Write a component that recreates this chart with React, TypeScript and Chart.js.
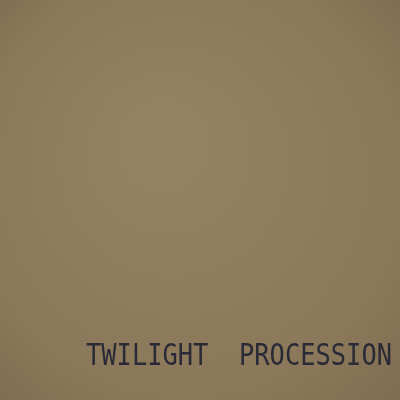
import React, { useEffect, useRef } from "react";
import { Chart, registerables } from "chart.js";

Chart.register(...registerables);

const TITLE_WORDS: string[] = ["TWILIGHT", "PROCESSION"];
const categories: string[] = [];
const values: number[] = [];

const coverPlugin = {
  id: "cover",
  beforeDraw(chart: any) {
    const { ctx, width, height } = chart;
    ctx.save();
    const g = ctx.createRadialGradient(width * 0.4, height * 0.35, 20, width * 0.5, height * 0.5, width * 0.75);
    g.addColorStop(0, "#958262");
    g.addColorStop(0.7, "#8b785a");
    g.addColorStop(1, "#7d6b50");
    ctx.fillStyle = g;
    ctx.fillRect(0, 0, width, height);
    ctx.restore();
  },
  afterDraw(chart: any) {
    const { ctx, width, height } = chart;
    const text = TITLE_WORDS.join("  ");
    ctx.save();
    ctx.font = "30px 'DejaVu Sans Mono', monospace";
    ctx.fillStyle = "#2a2a36";
    ctx.textBaseline = "alphabetic";
    const w = ctx.measureText(text).width;
    const targetW = (width / 400) * 306;
    const sx = targetW / w;
    const right = (width / 400) * 392;
    const base = (height / 400) * 365;
    ctx.translate(right - targetW, base);
    ctx.scale(sx, 1);
    ctx.fillText(text, 0, 0);
    ctx.restore();
  },
};

export default function App() {
  const ref = useRef<HTMLCanvasElement | null>(null);
  useEffect(() => {
    if (!ref.current) return;
    const chart = new Chart(ref.current, {
      type: "bar",
      data: { labels: categories, datasets: [{ data: values }] },
      options: {
        animation: false,
        responsive: true,
        maintainAspectRatio: false,
        layout: { padding: 0 },
        plugins: { legend: { display: false }, title: { display: false }, tooltip: { enabled: false } },
        scales: { x: { display: false }, y: { display: false } },
      },
      plugins: [coverPlugin],
    });
    return () => chart.destroy();
  }, []);
  return (
    <div style={{ position: "fixed", left: 0, top: 0, width: 400, height: 400 }}>
      <canvas ref={ref} />
    </div>
  );
}
